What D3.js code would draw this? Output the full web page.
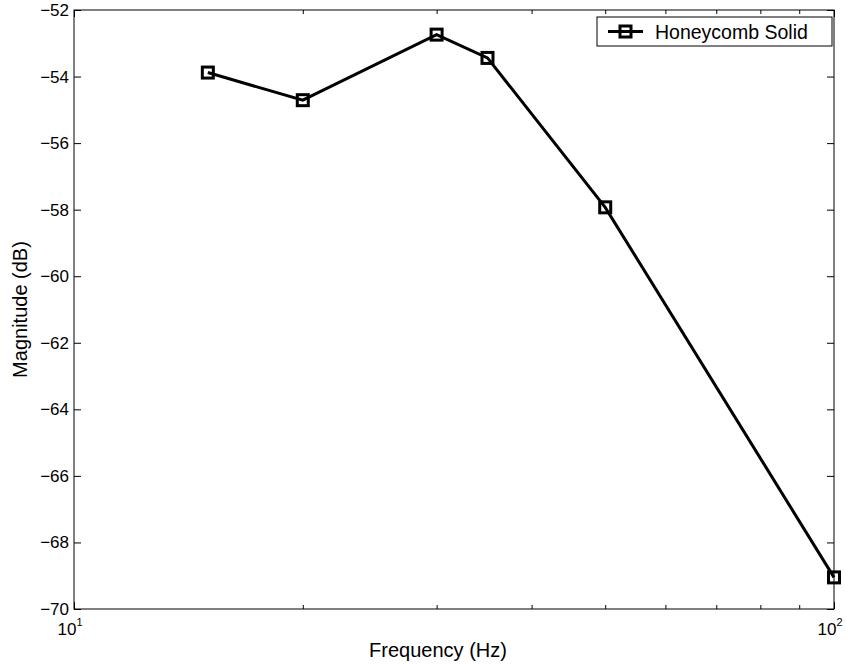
<!DOCTYPE html>
<html>
<head>
<meta charset="utf-8">
<script src="https://cdn.jsdelivr.net/npm/d3@7"></script>
<style>
  html, body { margin: 0; padding: 0; background: #fff; }
  svg { display: block; }
  text { font-family: "Liberation Sans", Arial, Helvetica, sans-serif; fill: #000; }
</style>
</head>
<body>
<svg id="chart" width="846" height="666"></svg>
<script>
// Frequency response of the honeycomb solid panel
const frequencies = [15, 20, 30, 35, 50, 100];          // Hz
const magnitudes  = [-53.88, -54.71, -52.74, -53.44, -57.93, -69.05]; // dB
const seriesName  = "Honeycomb Solid";
const yTicks      = [-70, -68, -66, -64, -62, -60, -58, -56, -54, -52];
const xMajorTicks = [10, 100];
const xMinorTicks = [20, 30, 40, 50, 60, 70, 80, 90];

const svg = d3.select("#chart");
const plot = { left: 74, right: 834, top: 10, bottom: 609 };

const x = d3.scaleLog().domain([10, 100]).range([plot.left, plot.right]);
const y = d3.scaleLinear().domain([-70, -52]).range([plot.bottom, plot.top]);

const minus = v => (v < 0 ? "\u2212" + Math.abs(v) : String(v));
const majorLen = 7, minorLen = 4;

// Bottom / top axes: major and minor ticks pointing inward
function xTicks(g, orient) {
  const make = orient === "bottom" ? d3.axisBottom : d3.axisTop;
  g.append("g").call(make(x).tickValues(xMajorTicks)
    .tickSizeInner(-majorLen).tickSizeOuter(0).tickFormat(""));
  g.append("g").call(make(x).tickValues(xMinorTicks)
    .tickSizeInner(-minorLen).tickSizeOuter(0).tickFormat(""));
}
xTicks(svg.append("g").attr("transform", `translate(0,${plot.bottom})`), "bottom");
xTicks(svg.append("g").attr("transform", `translate(0,${plot.top})`), "top");

// Left axis with labels, right axis ticks only
svg.append("g").attr("transform", `translate(${plot.left},0)`)
  .call(d3.axisLeft(y).tickValues(yTicks).tickSizeInner(-majorLen).tickSizeOuter(0)
    .tickPadding(5).tickFormat(minus));
svg.append("g").attr("transform", `translate(${plot.right},0)`)
  .call(d3.axisRight(y).tickValues(yTicks).tickSizeInner(-majorLen).tickSizeOuter(0).tickFormat(""));

svg.selectAll(".domain").remove();
svg.selectAll(".tick line").attr("stroke", "#000").attr("stroke-width", 1);
svg.selectAll(".tick text").attr("font-size", 17).attr("fill", "#000")
  .style("font-family", '"Liberation Sans", Arial, sans-serif');

// Plot frame
svg.append("rect")
  .attr("x", plot.left).attr("y", plot.top)
  .attr("width", plot.right - plot.left).attr("height", plot.bottom - plot.top)
  .attr("fill", "none").attr("stroke", "#000").attr("stroke-width", 1);

// Decade labels as 10^n
const decade = svg.append("g").selectAll("text").data(xMajorTicks).join("text")
  .attr("x", d => x(d) - 4).attr("y", plot.bottom + 26)
  .attr("text-anchor", "middle").attr("font-size", 17);
decade.append("tspan").text("10");
decade.append("tspan").attr("dy", -9).attr("font-size", 11)
  .text(d => Math.round(Math.log10(d)));

// Data line and square markers
const line = d3.line().x((d, i) => x(frequencies[i])).y(d => y(d));
svg.append("path").datum(magnitudes)
  .attr("d", line).attr("fill", "none").attr("stroke", "#000")
  .attr("stroke-width", 3).attr("stroke-linejoin", "miter");

const m = 11;
svg.append("g").selectAll("rect").data(magnitudes).join("rect")
  .attr("x", (d, i) => x(frequencies[i]) - m / 2)
  .attr("y", d => y(d) - m / 2)
  .attr("width", m).attr("height", m)
  .attr("fill", "none").attr("stroke", "#000").attr("stroke-width", 3);

// Axis titles
svg.append("text").attr("x", 438).attr("y", 657)
  .attr("text-anchor", "middle").attr("font-size", 20).text("Frequency (Hz)");
svg.append("text")
  .attr("transform", `translate(27,${(plot.top + plot.bottom) / 2}) rotate(-90)`)
  .attr("text-anchor", "middle").attr("font-size", 20).text("Magnitude (dB)");

// Legend
const lg = svg.append("g").attr("transform", "translate(597,17)");
lg.append("rect").attr("width", 235).attr("height", 29)
  .attr("fill", "#fff").attr("stroke", "#000").attr("stroke-width", 1);
lg.append("line").attr("x1", 11).attr("x2", 46).attr("y1", 14.5).attr("y2", 14.5)
  .attr("stroke", "#000").attr("stroke-width", 3);
lg.append("rect").attr("x", 28.5 - m / 2).attr("y", 14.5 - m / 2)
  .attr("width", m).attr("height", m)
  .attr("fill", "none").attr("stroke", "#000").attr("stroke-width", 3);
lg.append("text").attr("x", 58).attr("y", 21.5).attr("font-size", 19.5).text(seriesName);
</script>
</body>
</html>
